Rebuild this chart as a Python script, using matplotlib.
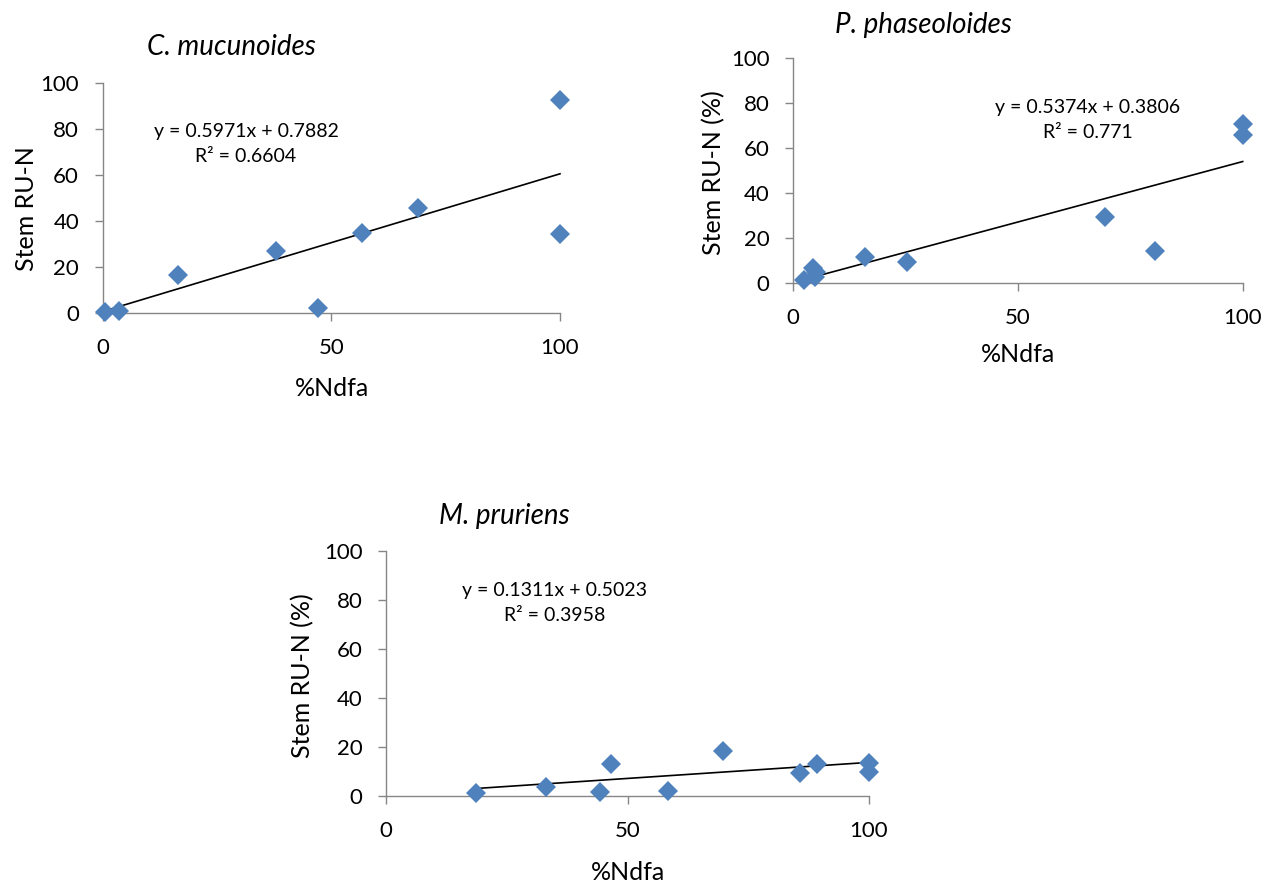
import matplotlib
matplotlib.use("Agg")
import matplotlib.pyplot as plt
import numpy as np

plt.rcParams['font.family'] = ['Lato', 'DejaVu Sans']

W, H = 1270, 886

# ---- data ----
titles = ["C. mucunoides", "P. phaseoloides", "M. pruriens"]
ylabels = ["Stem RU-N", "Stem RU-N (%)", "Stem RU-N (%)"]
xlabel = "%Ndfa"

cm_x = [0.5, 3.6, 16.5, 38.0, 47.1, 56.6, 69.0, 100.0, 100.0]
cm_y = [0.7, 0.8, 16.6, 27.0, 2.4, 34.7, 45.5, 92.5, 34.3]

pp_x = [2.4, 4.3, 4.8, 5.0, 15.9, 25.3, 69.3, 80.4, 100.0, 100.0]
pp_y = [1.5, 7.0, 3.0, 5.0, 11.8, 9.6, 29.6, 14.4, 70.8, 65.9]

mp_x = [18.6, 33.2, 44.3, 46.5, 58.4, 69.7, 85.8, 89.3, 100.0, 100.0]
mp_y = [1.2, 3.4, 1.6, 12.8, 2.0, 18.3, 9.1, 13.0, 13.2, 9.8]

slopes = [0.5971, 0.5374, 0.1311]
intercepts = [0.7882, 0.3806, 0.5023]
r2_text = ["0.6604", "0.771", "0.3958"]

xticks = [0, 50, 100]
yticks = [0, 20, 40, 60, 80, 100]

# ---- layout (pixel boxes: left, top, right, bottom) ----
boxes = [(102.7, 82.7, 560, 313.3), (793.3, 58.3, 1242.7, 283.3), (386, 551, 869, 795.7)]
title_pos = [(231, 47), (923, 25), (504, 516)]
ylabel_pos = [(26, 209), (714, 173), (303, 676)]
xlabel_pos = [(332, 389), (1018, 355), (628, 873)]
eq_pos = [(246, 144), (1088, 120), (555, 603)]

series = [(cm_x, cm_y), (pp_x, pp_y), (mp_x, mp_y)]

fig = plt.figure(figsize=(W / 100, H / 100), dpi=100)
blue = "#4F81BD"
grey = "#868686"

for i, (xs, ys) in enumerate(series):
    l, t, r, b = boxes[i]
    ax = fig.add_axes([l / W, 1 - b / H, (r - l) / W, (b - t) / H])
    ax.set_xlim(0, 100)
    ax.set_ylim(0, 100)
    ax.set_xticks(xticks)
    ax.set_yticks(yticks)
    for s in ["top", "right"]:
        ax.spines[s].set_visible(False)
    for s in ["left", "bottom"]:
        ax.spines[s].set_color(grey)
        ax.spines[s].set_linewidth(1.0)
    ax.tick_params(axis="both", direction="out", length=6, width=1.0, color=grey,
                   labelsize=16, labelcolor="black")
    ax.tick_params(axis="x", pad=12)
    ax.tick_params(axis="y", pad=11)
    ax.patch.set_alpha(0)

    xs = np.array(xs)
    lx = np.array([xs.min(), xs.max()])
    ax.plot(lx, slopes[i] * lx + intercepts[i], color="black", lw=1.2, zorder=3,
            clip_on=False)
    ax.plot(xs, ys, linestyle="none", marker="D", markersize=10, color=blue,
            markeredgewidth=0, zorder=4, clip_on=False)

    tx, ty = title_pos[i]
    fig.text(tx / W, 1 - ty / H, titles[i], ha="center", va="center",
             fontsize=20, fontstyle="italic")
    yx, yy = ylabel_pos[i]
    fig.text(yx / W, 1 - yy / H, ylabels[i], ha="center", va="center",
             rotation=90, fontsize=18)
    xx, xy = xlabel_pos[i]
    fig.text(xx / W, 1 - xy / H, xlabel, ha="center", va="center", fontsize=18)
    ex, ey = eq_pos[i]
    eq = f"y = {slopes[i]:.4f}x + {intercepts[i]:.4f}\nR\u00b2 = {r2_text[i]}"
    fig.text(ex / W, 1 - ey / H, eq, ha="center", va="center", fontsize=14,
             multialignment="center", linespacing=1.6)

fig.savefig("out.png", dpi=100)
